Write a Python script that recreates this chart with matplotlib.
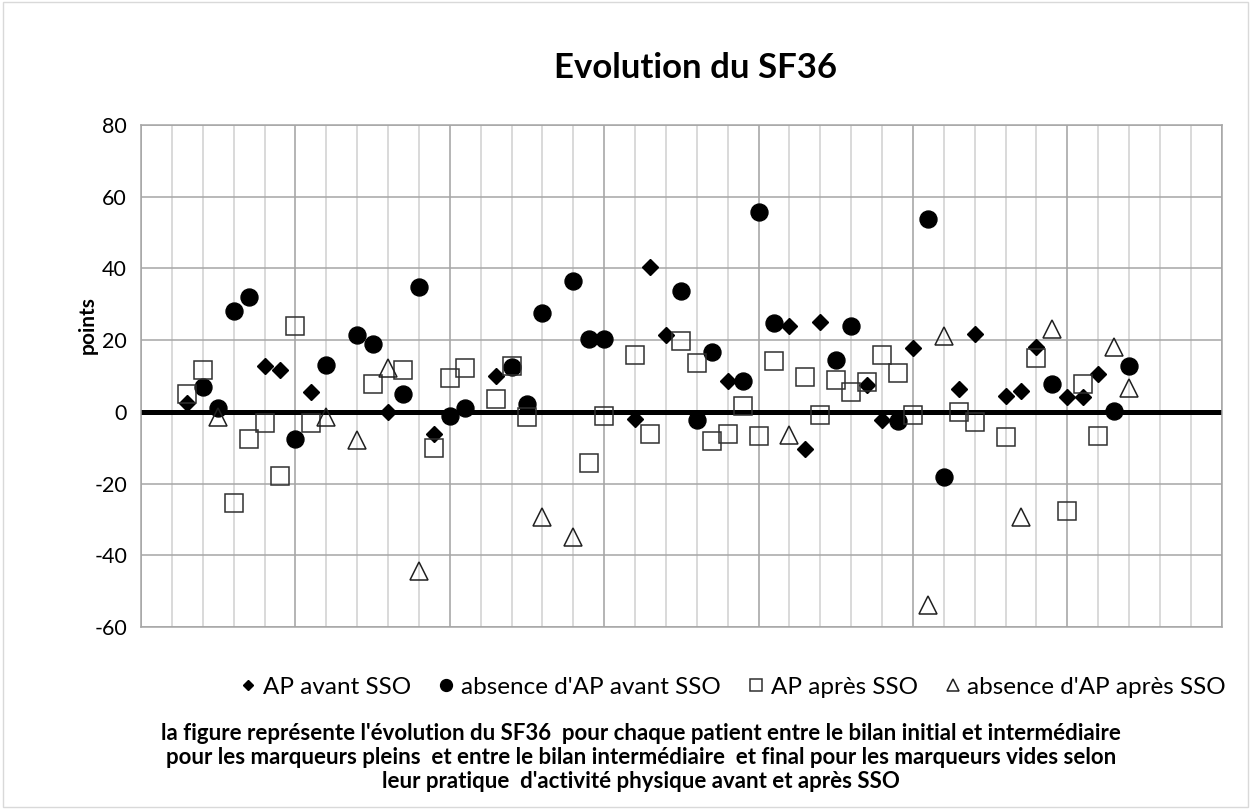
import matplotlib
matplotlib.use("Agg")
import matplotlib.pyplot as plt
from matplotlib.patches import Rectangle

plt.rcParams['font.family'] = ['Lato', 'DejaVu Sans']
plt.rcParams['axes.unicode_minus'] = False

# values (x = patient position, y = SF36 change in points)
ap_avant_x = [1.5, 4, 4.5, 5.5, 8, 9.5, 11.5, 16, 16.5, 17, 19, 21, 21.5, 22,
              23.5, 24, 25, 26.5, 27, 28, 28.5, 29, 30, 30.5, 31]
ap_avant_y = [2.4, 12.9, 11.7, 5.6, 0, -6.2, 10, -2.1, 40.5, 21.4, 8.7, 23.9, -10.4, 25.1,
              7.5, -2.3, 17.9, 6.3, 21.7, 4.4, 5.9, 18.2, 4.2, 4.0, 10.5]

sans_ap_avant_x = [2, 2.5, 3, 3.5, 5, 6, 7, 7.5, 8.5, 9, 10, 10.5, 12, 12.5, 13, 14,
                   14.5, 15, 17.5, 18, 18.5, 19.5, 20, 20.5, 22.5, 23, 24.5, 25.5, 26,
                   29.5, 31.5, 32]
sans_ap_avant_y = [7, 1.2, 28.2, 32.1, -7.7, 13, 21.4, 18.8, 4.9, 34.9, -1.1, 1.2, 12.5, 2.2,
                   27.5, 36.5, 20.3, 20.3, 33.7, -2.3, 16.6, 8.7, 55.6, 24.9, 14.4, 24,
                   -2.6, 53.8, -18.3, 7.7, 0.3, 12.9]

ap_apres_x = [1.5, 2, 3, 3.5, 4, 4.5, 5, 5.5, 7.5, 8.5, 9.5, 10, 10.5, 11.5, 12, 12.5,
              14.5, 15, 16, 16.5, 17.5, 18, 18.5, 19, 19.5, 20, 20.5, 21.5, 22, 22.5,
              23, 23.5, 24, 24.5, 25, 26.5, 27, 28, 29, 30, 30.5, 31]
ap_apres_y = [5, 11.7, -25.3, -7.7, -3, -17.9, 23.9, -3, 7.7, 11.7, -10.2, 9.3, 12.1, 3.5,
              12.8, -1.4, -14.2, -1.2, 15.8, -6.3, 19.8, 13.5, -8, -6.3, 1.7, -6.7, 14.3,
              9.8, -0.9, 8.9, 5.6, 8.4, 15.9, 10.7, -0.9, 0, -2.7, -7.1, 14.9, -27.6, 7.9,
              -6.7]

sans_ap_apres_x = [2.5, 6, 7, 8, 9, 13, 14, 21, 25.5, 26, 28.5, 29.5, 31.5, 32]
sans_ap_apres_y = [-1.5, -1.5, -7.9, 12.1, -44.3, -29.3, -35, -6.5, -54, 21.1, -29.3,
                   23.2, 18, 6.7]

labels = ["AP avant SSO", "absence d'AP avant SSO", "AP après SSO",
          "absence d'AP après SSO"]
caption = ["la figure représente l'évolution du SF36  pour chaque patient entre le bilan initial et intermédiaire",
           "pour les marqueurs pleins  et entre le bilan intermédiaire  et final pour les marqueurs vides selon",
           "leur pratique  d'activité physique avant et après SSO"]

fig = plt.figure(figsize=(12.5, 8.09), dpi=100)
fig.patches.append(Rectangle((0.002, 0.003), 0.996, 0.994, transform=fig.transFigure,
                             fill=False, edgecolor='#d9d9d9', lw=1))
ax = fig.add_axes([0.1128, 0.2250, 0.8646, 0.6205])

ax.plot(ap_avant_x, ap_avant_y, ls='none', marker='D', ms=7.8, color='black',
        label=labels[0], zorder=3)
ax.plot(sans_ap_avant_x, sans_ap_avant_y, ls='none', marker='o', ms=12.2, color='black',
        label=labels[1], zorder=3)
ax.plot(ap_apres_x, ap_apres_y, ls='none', marker='s', ms=12.8, mfc='none', mec='#303030',
        mew=1.1, label=labels[2], zorder=3)
ax.plot(sans_ap_apres_x, sans_ap_apres_y, ls='none', marker='^', ms=13, mfc='none',
        mec='#202020', mew=1.1, label=labels[3], zorder=3)

ax.axhline(0, color='black', lw=3.6, zorder=2.5)

ax.set_xlim(0, 35)
ax.set_ylim(-60, 80)
ax.set_yticks(range(-60, 81, 20))
ax.set_xticks(range(0, 36, 5))
ax.set_xticks(range(0, 36), minor=True)
ax.set_xticklabels([])
ax.tick_params(axis='both', which='both', length=0)
ax.tick_params(axis='y', labelsize=15.5, pad=10)
ax.grid(axis='y', which='major', color='#a6a6a6', lw=1.1)
ax.grid(axis='x', which='major', color='#a0a0a0', lw=1.1)
ax.grid(axis='x', which='minor', color='#cfcfcf', lw=1.1)
ax.set_axisbelow(True)
for s in ax.spines.values():
    s.set_color('#a6a6a6')
    s.set_linewidth(1.1)

fig.text(88 / 1250, 1 - 325 / 809, 'points', rotation=90, ha='center', va='center',
         fontsize=15, fontweight='bold')
fig.text(695 / 1250, 1 - 68 / 809, 'Evolution du SF36', ha='center', va='center',
         fontsize=25, fontweight='bold')

leg = fig.legend(loc='center', bbox_to_anchor=(733 / 1250, 1 - 687 / 809), ncol=4,
                 frameon=False, fontsize=17.5, markerscale=0.7, handlelength=0.7,
                 handletextpad=0.25, columnspacing=1.1)

for i, line in enumerate(caption):
    fig.text(641 / 1250, 1 - (733 + 24.5 * i) / 809, line, ha='center', va='center',
             fontsize=16, fontweight='bold')

fig.savefig('out.png', dpi=100)
